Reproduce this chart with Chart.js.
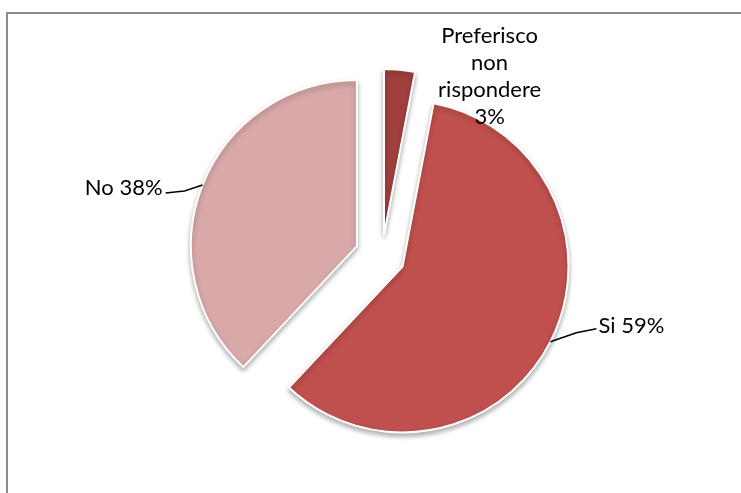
<!DOCTYPE html>
<html>
<head>
<meta charset="utf-8">
<script src="https://cdn.jsdelivr.net/npm/chart.js@4"></script>
<style>
  html, body { margin: 0; padding: 0; background: #fff; }
  #wrap { position: relative; width: 741px; height: 493px; overflow: hidden; }
  #frame { position: absolute; left: 6px; top: 12px; width: 800px; height: 600px;
           border-left: 2px solid #8c8c8c; border-top: 2px solid #8c8c8c; }
  canvas { position: absolute; left: 0; top: 0; }
</style>
</head>
<body>
<div id="wrap">
  <div id="frame"></div>
  <canvas id="pieChart" width="741" height="493"></canvas>
</div>
<script>
// data
const labels = ["Preferisco non rispondere", "Si", "No"];
const values = [3, 59, 38];
const colors = ["#A0403D", "#C0504D", "#D9A8A8"];

// how far each slice is pulled out from the centre (px)
const explode = [21, 23, 27];

// label text lines, and where to put them relative to the arc edge
const labelLines = [["Preferisco", "non", "rispondere", "3%"], ["Si 59%"], ["No 38%"]];
const labelStyle = [
  { dx: 90, dy: -34, align: "center", line: null },
  { dx: 48, dy: -16, align: "left", line: [[26, -9], [46, -13]] },
  { dx: -40, dy: 3, align: "right", line: [[-18, 6], [-37, 8]] }
];

// draw the slices pulled apart, with a soft shadow
const explodePlugin = {
  id: "explode",
  beforeDatasetDraw(chart, args) {
    const ctx = chart.ctx;
    args.meta.data.forEach((arc, i) => {
      const mid = (arc.startAngle + arc.endAngle) / 2;
      ctx.save();
      ctx.shadowColor = "rgba(0,0,0,0.3)";
      ctx.shadowBlur = 5;
      ctx.shadowOffsetY = 3;
      ctx.translate(Math.cos(mid) * explode[i], Math.sin(mid) * explode[i]);
      arc.draw(ctx);
      ctx.restore();
    });
    return false;
  }
};

// labels with leader lines
const labelPlugin = {
  id: "sliceLabels",
  afterDraw(chart) {
    const ctx = chart.ctx;
    const meta = chart.getDatasetMeta(0);
    ctx.save();
    ctx.font = "22px Lato";
    ctx.fillStyle = "#000";
    ctx.strokeStyle = "#000";
    ctx.lineWidth = 1.5;
    ctx.textBaseline = "middle";
    meta.data.forEach((arc, i) => {
      const p = arc.getProps(["x", "y", "startAngle", "endAngle", "outerRadius"], true);
      const mid = (p.startAngle + p.endAngle) / 2;
      const r = p.outerRadius + explode[i];
      const ax = p.x + Math.cos(mid) * r;
      const ay = p.y + Math.sin(mid) * r;
      const st = labelStyle[i];
      if (st.line) {
        ctx.beginPath();
        ctx.moveTo(ax, ay);
        st.line.forEach(pt => ctx.lineTo(ax + pt[0], ay + pt[1]));
        ctx.stroke();
      }
      ctx.textAlign = st.align;
      labelLines[i].forEach((t, k) => {
        ctx.fillText(t, ax + st.dx, ay + st.dy + k * 27);
      });
    });
    ctx.restore();
  }
};

new Chart(document.getElementById("pieChart"), {
  type: "pie",
  data: {
    labels: labels,
    datasets: [{
      data: values,
      backgroundColor: colors,
      borderColor: "#ffffff",
      borderWidth: 2
    }]
  },
  options: {
    responsive: false,
    animation: false,
    layout: { padding: { top: 89, bottom: 70, left: 82, right: 59 } },
    plugins: {
      legend: { display: false },
      tooltip: { enabled: false }
    }
  },
  plugins: [explodePlugin, labelPlugin]
});
</script>
</body>
</html>
